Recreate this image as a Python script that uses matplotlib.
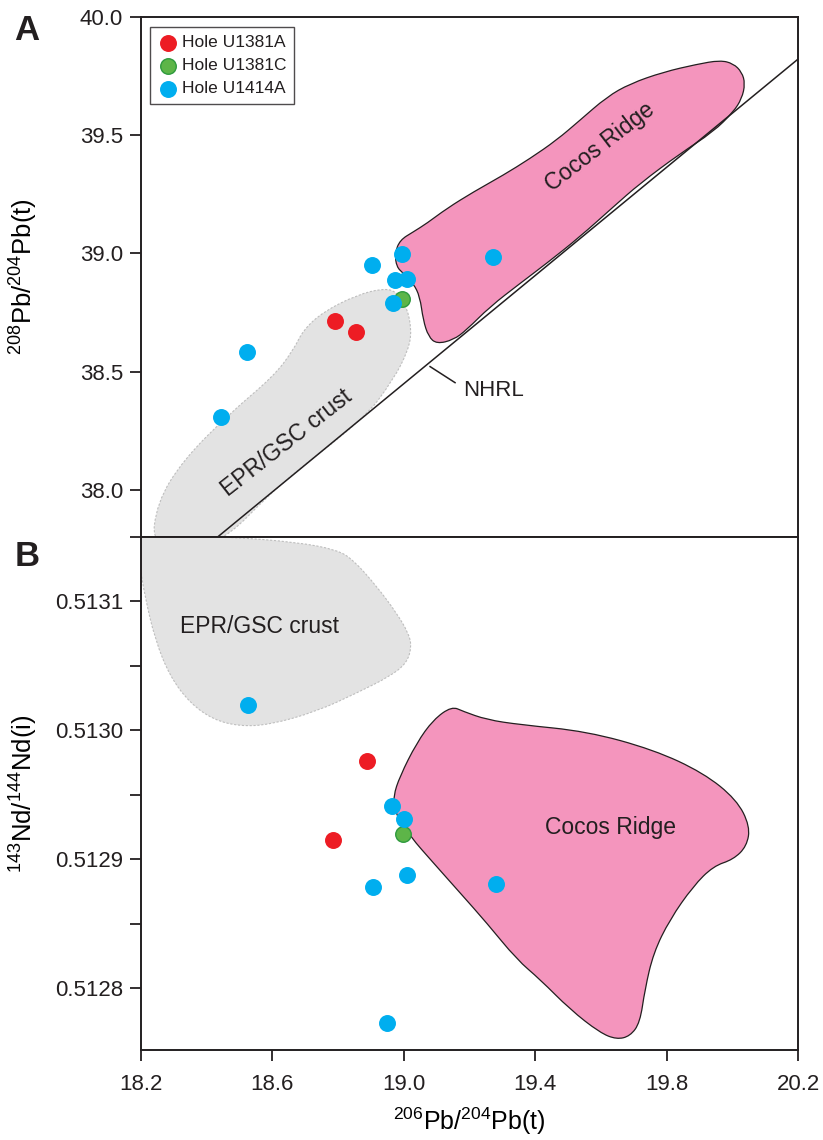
import matplotlib
matplotlib.use("Agg")
import matplotlib.pyplot as plt
from matplotlib.patches import PathPatch
from matplotlib.path import Path
from matplotlib.ticker import FormatStrFormatter, MultipleLocator

plt.rcParams['font.family'] = ['Liberation Sans', 'DejaVu Sans']
plt.rcParams['mathtext.default'] = 'regular'
plt.rcParams['text.color'] = '#231F20'

# ---- sample data ----
series = ['Hole U1381A', 'Hole U1381C', 'Hole U1414A']
colors = ['#ED1C24', '#5DB548', '#00AEEF']
edges = ['#ED1C24', '#2E9A3E', '#00AEEF']

# panel A: 206Pb/204Pb vs 208Pb/204Pb
pb206_A = [
    [18.790, 18.854],
    [18.996],
    [18.904, 18.996, 18.973, 19.011, 18.968, 18.522, 18.443, 19.273],
]
pb208_A = [
    [38.714, 38.667],
    [38.808],
    [38.949, 38.996, 38.886, 38.890, 38.789, 38.582, 38.306, 38.983],
]

# panel B: 206Pb/204Pb vs 143Nd/144Nd
pb206_B = [
    [18.887, 18.784],
    [18.998],
    [18.525, 18.964, 19.000, 19.010, 18.905, 19.280, 18.949],
]
nd_B = [
    [0.5129763, 0.5129153],
    [0.5129197],
    [0.5130200, 0.5129411, 0.5129313, 0.5128874, 0.5128783, 0.5128804, 0.5127732],
]

# ---- reference fields (outline vertices) ----
epr_A_x = [18.430, 18.623, 18.877, 18.968, 19.014, 19.024, 19.009, 18.978, 18.938,
           18.857, 18.755, 18.694, 18.664, 18.603, 18.471, 18.329, 18.248, 18.233]
epr_A_y = [37.75, 38.028, 38.296, 38.465, 38.591, 38.676, 38.774, 38.838, 38.852,
           38.824, 38.753, 38.676, 38.591, 38.479, 38.324, 38.127, 37.944, 37.75]

cocos_A_x = [18.973, 18.988, 19.029, 19.070, 19.131, 19.212, 19.303, 19.384, 19.465,
             19.536, 19.618, 19.689, 19.790, 19.892, 19.963, 20.003, 20.029, 20.039,
             20.029, 20.003, 19.942, 19.841, 19.719, 19.638, 19.536, 19.435, 19.354,
             19.262, 19.191, 19.151, 19.100, 19.075, 19.059, 19.049, 19.029, 18.998,
             18.978]
cocos_A_y = [39.000, 39.056, 39.091, 39.127, 39.190, 39.260, 39.331, 39.401, 39.479,
             39.563, 39.662, 39.718, 39.767, 39.800, 39.817, 39.803, 39.767, 39.718,
             39.655, 39.598, 39.514, 39.422, 39.296, 39.197, 39.070, 38.958, 38.873,
             38.774, 38.676, 38.634, 38.617, 38.648, 38.718, 38.817, 38.873, 38.916,
             38.943]

nhrl_x = [18.40, 20.25]
nhrl_y = [37.762, 39.879]
nhrl_leader_x = [19.080, 19.156]
nhrl_leader_y = [38.521, 38.453]

epr_B_x = [18.17, 18.471, 18.674, 18.796, 18.846, 18.918, 18.978, 19.014, 19.024,
           19.009, 18.958, 18.857, 18.735, 18.593, 18.501, 18.420, 18.349, 18.288,
           18.243, 18.212, 18.195, 18.17]
epr_B_y = [0.5131530, 0.5131500, 0.5131460, 0.5131401, 0.5131323, 0.5131116,
           0.5130910, 0.5130755, 0.5130651, 0.5130522, 0.5130419, 0.5130290,
           0.5130147, 0.5130044, 0.5130031, 0.5130083, 0.5130212, 0.5130419,
           0.5130703, 0.5131039, 0.5131298, 0.5131450]

cocos_B_x = [19.146, 19.181, 19.252, 19.354, 19.557, 19.760, 19.912, 20.013, 20.054,
             20.044, 20.003, 19.942, 19.881, 19.810, 19.760, 19.734, 19.719, 19.689,
             19.648, 19.597, 19.506, 19.415, 19.344, 19.252, 19.171, 19.090, 19.019,
             18.973, 18.968, 18.988, 19.039, 19.090]
cocos_B_y = [0.5130186, 0.5130147, 0.5130083, 0.5130044, 0.5129992, 0.5129850,
             0.5129670, 0.5129463, 0.5129256, 0.5129101, 0.5128998, 0.5128946,
             0.5128791, 0.5128533, 0.5128274, 0.5127990, 0.5127732, 0.5127628,
             0.5127602, 0.5127654, 0.5127835, 0.5128067, 0.5128222, 0.5128507,
             0.5128740, 0.5128972, 0.5129178, 0.5129360, 0.5129488, 0.5129643,
             0.5129902, 0.5130083]

x_ticks = [18.2, 18.6, 19.0, 19.4, 19.8, 20.2]

gray = '#E3E3E3'
pink = '#F495BD'
ink = '#231F20'


def smooth_field(xs, ys, **kw):
    # closed quadratic-bezier outline using the traced vertices as control points
    pts = list(zip(xs, ys))
    n = len(pts)
    mids = [((pts[i][0] + pts[(i + 1) % n][0]) / 2, (pts[i][1] + pts[(i + 1) % n][1]) / 2)
            for i in range(n)]
    verts = [mids[-1]]
    codes = [Path.MOVETO]
    for i in range(n):
        verts += [pts[i], mids[i]]
        codes += [Path.CURVE3, Path.CURVE3]
    verts.append(mids[-1])
    codes.append(Path.CLOSEPOLY)
    return PathPatch(Path(verts, codes), **kw)


fig = plt.figure(figsize=(8.23, 11.4), dpi=100)
axA = fig.add_axes([141/823, 1-537/1140, 657/823, 520/1140])
axB = fig.add_axes([141/823, 1-1050/1140, 657/823, 513/1140])

# ---- panel A ----
axA.add_patch(smooth_field(epr_A_x, epr_A_y, facecolor=gray, edgecolor='#BEBEBE',
                           linestyle=(0, (2, 1.5)), linewidth=0.8, zorder=1))
axA.add_patch(smooth_field(cocos_A_x, cocos_A_y, facecolor=pink, edgecolor=ink,
                           linewidth=0.9, zorder=2))
axA.plot(nhrl_x, nhrl_y, color=ink, linewidth=1.1, zorder=3)
axA.plot(nhrl_leader_x, nhrl_leader_y, color=ink, linewidth=1.1, zorder=3)
axA.text(19.180, 38.42, 'NHRL', fontsize=16, ha='left', va='center')
axA.text(18.643, 38.197, 'EPR/GSC crust', fontsize=16.5, rotation=38,
         ha='center', va='center', zorder=4)
axA.text(19.597, 39.450, 'Cocos Ridge', fontsize=16.5, rotation=37.5,
         ha='center', va='center', zorder=4)

for name, c, ec, xs, ys in zip(series, colors, edges, pb206_A, pb208_A):
    axA.scatter(xs, ys, s=125, color=c, edgecolors=ec, linewidths=1.0,
                label=name, zorder=5)

axA.set_xlim(18.2, 20.2)
axA.set_ylim(37.80, 40.0)
axA.yaxis.set_major_locator(MultipleLocator(0.5))
axA.yaxis.set_major_formatter(FormatStrFormatter('%.1f'))
axA.set_xticks([])
axA.set_ylabel(r'$^{208}$Pb/$^{204}$Pb(t)', fontsize=18.5)
axA.yaxis.set_label_coords(-0.153, 0.5)

leg = axA.legend(loc='upper left', bbox_to_anchor=(0.0137, 0.98), borderaxespad=0,
                 fontsize=12.5, frameon=True, fancybox=False, handletextpad=0.2,
                 handlelength=1.2, labelspacing=0.45, borderpad=0.45)
leg.get_frame().set_edgecolor(ink)
leg.get_frame().set_linewidth(1.0)

# ---- panel B ----
axB.add_patch(smooth_field(epr_B_x, epr_B_y, facecolor=gray, edgecolor='#BEBEBE',
                           linestyle=(0, (2, 1.5)), linewidth=0.8, zorder=1))
axB.add_patch(smooth_field(cocos_B_x, cocos_B_y, facecolor=pink, edgecolor=ink,
                           linewidth=0.9, zorder=2))
axB.text(18.562, 0.5130806, 'EPR/GSC crust', fontsize=16.5, ha='center', va='center', zorder=4)
axB.text(19.628, 0.5129246, 'Cocos Ridge', fontsize=16.5, ha='center', va='center', zorder=4)

for name, c, ec, xs, ys in zip(series, colors, edges, pb206_B, nd_B):
    axB.scatter(xs, ys, s=125, color=c, edgecolors=ec, linewidths=1.0, zorder=5)

axB.set_xlim(18.2, 20.2)
axB.set_ylim(0.512752, 0.51315)
axB.set_xticks(x_ticks)
axB.xaxis.set_major_formatter(FormatStrFormatter('%.1f'))
axB.yaxis.set_major_locator(MultipleLocator(0.0001))
axB.yaxis.set_minor_locator(MultipleLocator(0.00005))
axB.yaxis.set_major_formatter(FormatStrFormatter('%.4f'))
axB.set_ylabel(r'$^{143}$Nd/$^{144}$Nd(i)', fontsize=18.5)
axB.yaxis.set_label_coords(-0.153, 0.5)
axB.set_xlabel(r'$^{206}$Pb/$^{204}$Pb(t)', fontsize=18, labelpad=8)

for ax in (axA, axB):
    for sp in ax.spines.values():
        sp.set_linewidth(1.4)
        sp.set_color(ink)
    ax.tick_params(axis='both', which='both', direction='out', length=8, width=1.3,
                   labelsize=16, pad=5, colors=ink)
axB.tick_params(axis='x', pad=9)

fig.text(27/823, 1-30/1140, 'A', fontsize=25, fontweight='bold', ha='center', va='center')
fig.text(27/823, 1-556/1140, 'B', fontsize=25, fontweight='bold', ha='center', va='center')

fig.savefig('out.png', dpi=100)
